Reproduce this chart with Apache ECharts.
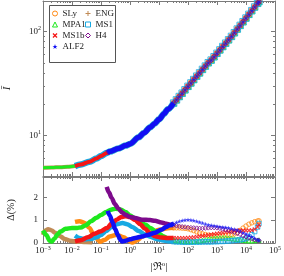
<!DOCTYPE html>
<html><head><meta charset="utf-8">
<script src="https://cdn.jsdelivr.net/npm/echarts@6/dist/echarts.min.js"></script>
<style>html,body{margin:0;padding:0;background:#fff}#c{width:284px;height:276px}</style>
</head><body><div id="c"></div>
<script>
// ---------------- data ----------------
const eosNames = ['SLy','ENG','MPA1','MS1','MS1b','H4','ALF2'];
const xMajorTicks = [1e-3,1e-2,1e-1,1,10,100,1e3,1e4,1e5];
const yTopMajorTicks = [10,100];
const yTopMinorTicks = [5,6,7,8,9,20,30,40,50,60,70,80,90];
const yBotTicks = [0,1,2];

// top panel: I-bar along the common curve (dense part, drawn as band)
const topR    = [0.001,0.002,0.004,0.007,0.0127,0.02,0.04,0.07,0.1,0.157,0.17,0.2,0.4,0.7,1,2,3,5,7,10,15,20,32];
const topIbar = [4.9,4.92,4.96,5.0,5.08,5.25,5.6,6.0,6.35,6.8,6.87,7.0,7.5,8.0,8.3,9.6,10.6,12.0,13.0,14.3,16.2,17.9,20.5];
// sparse part: marker positions and I-bar there
const markR    = [32,40,50,63,79,100,126,158,200,251,316,398,501,631,794,1000,1259,1585,1995,2512,3162,3981,5012,6310,7943,10000,12589,15849,19953,25119,28000];
const markIbar = [20.5,22.0,23.7,25.5,27.5,29.7,32.0,34.5,37.2,40.0,43.2,46.5,50.1,53.1,57.2,61.7,66.5,71.7,77.2,83.2,89.7,97.3,105.5,114.5,124.2,134.7,146.2,158.6,172,186.6,194];

// bottom panel: Delta(%) — dense part (R, Delta) and values at markR
const slyR = [0.0127,0.018,0.028,0.04,0.053,0.07,0.093,0.13,0.2,0.35,0.6,0.9,1.2,1.8,2.6,5,10,20,32];
const slyD = [0.92,0.95,0.87,0.65,0.42,0.2,0.05,0.13,0.28,0.36,0.25,0.1,0.02,0.12,0.27,0.45,0.58,0.64,0.66];
const slyM = [0.66,0.66,0.66,0.65,0.64,0.62,0.58,0.54,0.49,0.44,0.40,0.37,0.34,0.32,0.31,0.30,0.30,0.30,0.31,0.33,0.36,0.40,0.45,0.55,0.65,0.74,0.82,0.88,0.93,0.96,0.97];

// ENG: only its visible low-R part (further on it is hidden under the other curves)
const engR = [0.001,0.0012,0.0015,0.002,0.0026,0.0039,0.0055,0.0085,0.015,0.03,0.05];
const engD = [0.35,0.55,0.6,0.55,0.45,0.3,0.18,0.1,0.06,0.04,0.03];
const engM = [];

const mpa1R = [0.001,0.0013,0.0017,0.002,0.0025,0.0032,0.004,0.006,0.01,0.015,0.02,0.03,0.045,0.07,0.1,0.15,0.22,0.32,0.5,0.7,1,1.5,2.3,3.3,5,7.3,10,14,20,32];
const mpa1D = [0.55,0.35,0.1,0.06,0.2,0.38,0.5,0.62,0.66,0.66,0.68,0.78,0.95,1.1,1.22,1.35,1.45,1.5,1.45,1.35,1.2,1.07,0.93,0.81,0.66,0.52,0.41,0.3,0.2,0.12];
const mpa1M = [0.12,0.1,0.08,0.07,0.06,0.06,0.06,0.07,0.08,0.1,0.12,0.14,0.16,0.18,0.2,0.21,0.22,0.22,0.22,0.21,0.2,0.18,0.16,0.14,0.12,0.11,0.1,0.1,0.11,0.12,0.13];

const ms1R = [0.0127,0.018,0.028,0.045,0.07,0.1,0.15,0.22,0.35,0.55,0.8,1.2,2,3.3,5,8,14,20,32];
const ms1D = [0.32,0.22,0.16,0.18,0.25,0.35,0.52,0.68,0.82,0.87,0.82,0.7,0.52,0.37,0.27,0.18,0.11,0.08,0.06];
const ms1M = [0.06,0.05,0.05,0.04,0.04,0.04,0.04,0.04,0.04,0.04,0.05,0.05,0.05,0.05,0.06,0.06,0.07,0.07,0.08,0.09,0.1,0.11,0.12,0.14,0.16,0.2,0.26,0.36,0.5,0.7,0.85];

const ms1bR = [0.0127,0.02,0.035,0.06,0.093,0.16,0.25,0.35,0.5,0.7,1,1.5,2.2,3.3,5,7.3,12,20,32];
const ms1bD = [0.07,0.12,0.25,0.4,0.5,0.65,0.88,1.02,1.13,1.17,1.13,1.0,0.83,0.62,0.42,0.3,0.24,0.22,0.22];
const ms1bM = [0.22,0.22,0.22,0.22,0.22,0.23,0.24,0.25,0.27,0.29,0.31,0.33,0.35,0.37,0.39,0.41,0.43,0.45,0.47,0.49,0.51,0.53,0.54,0.55,0.55,0.55,0.55,0.56,0.6,0.7,0.8];

const h4R = [0.157,0.19,0.23,0.3,0.4,0.55,0.7,1,1.5,2.6,4.9,7.3,12,18,24,32];
const h4D = [2.45,2.2,1.98,1.7,1.5,1.32,1.23,1.14,1.09,1.02,1.0,0.97,0.9,0.84,0.8,0.77];
const h4M = [0.77,0.75,0.73,0.71,0.7,0.68,0.67,0.66,0.65,0.64,0.64,0.65,0.66,0.67,0.67,0.66,0.64,0.61,0.58,0.55,0.51,0.47,0.42,0.37,0.32,0.27,0.22,0.18,0.14,0.12,0.11];

const alf2R = [0.17,0.2,0.25,0.31,0.38,0.46,0.53,0.7,1,1.5,2.6,4,7.3,12,18,24,32];
const alf2D = [1.4,1.2,0.9,0.6,0.35,0.15,0.07,0.1,0.16,0.22,0.28,0.35,0.45,0.58,0.7,0.78,0.85];
const alf2M = [0.85,0.9,0.95,0.98,1.0,1.01,1.0,0.98,0.95,0.91,0.87,0.83,0.79,0.77,0.75,0.73,0.71,0.69,0.68,0.66,0.63,0.6,0.57,0.52,0.46,0.4,0.34,0.28,0.2,0.14,0.12];

// ---------------- style ----------------
const FONT = 'Liberation Serif, DejaVu Serif, serif';
const AX = '#7a7a7a';
const TXT = '#222';
const STAR = 'path://M5,0L6.18,3.38L9.76,3.45L6.9,5.62L7.94,9.05L5,7L2.06,9.05L3.1,5.62L0.24,3.45L3.82,3.38Z';
const CROSS = 'path://M0,1.8L1.8,0L5,3.2L8.2,0L10,1.8L6.8,5L10,8.2L8.2,10L5,6.8L1.8,10L0,8.2L3.2,5Z';
const PLUS = 'path://M4,0H6V4H10V6H6V10H4V6H0V4H4Z';

const eosList = [
  {name:'SLy',  R:slyR,  D:slyD,  M:slyM,  color:'#ff8a14', symbol:'circle',   fill:false, topW:5,   topS:6},
  {name:'ENG',  R:engR,  D:engD,  M:engM,  color:'#c08a55', symbol:PLUS,       fill:true,  topW:4,   topS:5},
  {name:'MPA1', R:mpa1R, D:mpa1D, M:mpa1M, color:'#1ee81e', symbol:'triangle', fill:false, topW:3,   topS:6},
  {name:'MS1',  R:ms1R,  D:ms1D,  M:ms1M,  color:'#17a9e3', symbol:'rect',     fill:false, topW:6.5, topS:6.5},
  {name:'MS1b', R:ms1bR, D:ms1bD, M:ms1bM, color:'#f51616', symbol:CROSS,      fill:true,  topW:4,   topS:5},
  {name:'H4',   R:h4R,   D:h4D,   M:h4M,   color:'#7d0a8c', symbol:'diamond',  fill:false, topW:5,   topS:5.5},
  {name:'ALF2', R:alf2R, D:alf2D, M:alf2M, color:'#1010f5', symbol:STAR,       fill:true,  topW:5,   topS:4.5}
];

const X_MIN = 1e-3, X_MAX = 1e5;
const xMinorTicks = [];
xMajorTicks.slice(0,-1).forEach(m => { for (let k=2;k<=9;k++) xMinorTicks.push(+(m*k).toPrecision(6)); });

function powLabel(v){ const e = Math.round(Math.log10(v)); return '10{s|' + (e<0 ? '\u2212'+(-e) : e) + '}'; }
const supRich = { s:{fontSize:6, verticalAlign:'top', lineHeight:12, fontFamily:FONT, color:TXT} };

function xAx(gridIndex, position, ticks, len, showLine, labels){
  return {
    type:'log', logBase:10, gridIndex, position, min:X_MIN, max:X_MAX,
    axisLine:{show:showLine, onZero:false, lineStyle:{color:AX, width:1}},
    axisTick:{show:true, inside:true, length:len, customValues:ticks, lineStyle:{color:AX, width:1}},
    axisLabel: labels ? {show:true, customValues:xMajorTicks, formatter:powLabel, fontFamily:FONT, fontSize:9, color:TXT, lineHeight:12, margin:2, rich:supRich} : {show:false},
    splitLine:{show:false}
  };
}
function yTop(position, ticks, len, showLine, labels){
  return {
    type:'log', logBase:10, gridIndex:0, position, min:4.08, max:196.5,
    axisLine:{show:showLine, onZero:false, lineStyle:{color:AX, width:1}},
    axisTick:{show:true, inside:true, length:len, customValues:ticks, lineStyle:{color:AX, width:1}},
    axisLabel: labels ? {show:true, customValues:yTopMajorTicks, formatter:powLabel, fontFamily:FONT, fontSize:9, color:TXT, lineHeight:12, margin:2, rich:supRich} : {show:false},
    splitLine:{show:false}
  };
}
function yBot(position, labels){
  return {
    type:'value', gridIndex:1, position, min:0, max:2.88,
    axisLine:{show:true, onZero:false, lineStyle:{color:AX, width:1}},
    axisTick:{show:true, inside:true, length:4, customValues:yBotTicks, lineStyle:{color:AX, width:1}},
    axisLabel: labels ? {show:true, customValues:yBotTicks, formatter:v=>String(Math.round(v)), fontFamily:FONT, fontSize:9, color:TXT, margin:5} : {show:false},
    splitLine:{show:false}
  };
}

const xAxes = [
  xAx(0,'bottom',xMajorTicks,4,true,false), xAx(0,'bottom',xMinorTicks,2,false,false),
  xAx(0,'top',xMajorTicks,4,true,false),    xAx(0,'top',xMinorTicks,2,false,false),
  xAx(1,'bottom',xMajorTicks,4,true,true),  xAx(1,'bottom',xMinorTicks,2,false,false),
  xAx(1,'top',xMajorTicks,4,true,false),    xAx(1,'top',xMinorTicks,2,false,false)
];
Object.assign(xAxes[4], {name:'|\u211C{s|o}|', nameLocation:'middle', nameGap:18,
  nameTextStyle:{fontFamily:FONT, fontSize:11, color:TXT, lineHeight:13, rich:{s:{fontSize:7, verticalAlign:'top', lineHeight:13, fontFamily:FONT, color:TXT}}}});

const yAxes = [
  yTop('left',yTopMajorTicks,4,true,true), yTop('left',yTopMinorTicks,2,false,false),
  yTop('right',yTopMajorTicks,4,true,false), yTop('right',yTopMinorTicks,2,false,false),
  yBot('left',true), yBot('right',false)
];
Object.assign(yAxes[0], {name:'\u012A', nameLocation:'middle', nameRotate:90, nameGap:30,
  nameTextStyle:{fontFamily:FONT, fontSize:11, fontStyle:'italic', color:TXT}});
Object.assign(yAxes[4], {name:'\u0394(%)', nameLocation:'middle', nameRotate:90, nameGap:27,
  nameTextStyle:{fontFamily:FONT, fontSize:10, color:TXT}});

function mkItemStyle(e){ return e.fill ? {color:e.color, borderWidth:0}
                                        : {color:'rgba(0,0,0,0)', borderColor:e.color, borderWidth:1}; }

const series = [];
eosList.forEach(e => {
  const start = e.R[0];
  series.push({type:'line', name:e.name, xAxisIndex:0, yAxisIndex:0, silent:true,
    data: topR.map((r,i)=>[r, topIbar[i]]).filter(p => p[0] >= start*0.999),
    smooth:0.3, smoothMonotone:'x', symbol:'none', showSymbol:false,
    lineStyle:{color:e.color, width:e.topW}});
  series.push({type:'scatter', name:e.name, xAxisIndex:0, yAxisIndex:0, silent:true,
    data: markR.map((r,i)=>[r, markIbar[i]]), symbol:e.symbol, symbolSize:e.topS, itemStyle:mkItemStyle(e)});
});
eosList.forEach(e => {
  series.push({type:'line', name:e.name, xAxisIndex:4, yAxisIndex:4, silent:true,
    data: e.R.map((r,i)=>[r, e.D[i]]),
    smooth:0.3, smoothMonotone:'x', symbol:'none', showSymbol:false,
    lineStyle:{color:e.color, width:4.5}});
  series.push({type:'scatter', name:e.name, xAxisIndex:4, yAxisIndex:4, silent:true,
    data: e.M.map((d,i)=>[markR[i], d]), symbol:e.symbol, symbolSize:4.5, itemStyle:mkItemStyle(e)});
});

function legendItem(n){
  const e = eosList.find(x => x.name === n);
  return {name:n, icon:e.symbol, itemStyle:mkItemStyle(e)};
}
const legendBase = {orient:'vertical', top:8, padding:0, itemGap:0, itemWidth:5, itemHeight:5,
  textStyle:{fontFamily:FONT, fontSize:9, lineHeight:11, color:TXT}, selectedMode:false, z:10};

const option = {
  animation:false,
  backgroundColor:'#fff',
  grid:[
    {left:43, right:9, top:1, height:175, containLabel:false, outerBoundsMode:'none'},
    {left:43, right:9, top:177, height:66, containLabel:false, outerBoundsMode:'none'}
  ],
  xAxis:xAxes, yAxis:yAxes,
  legend:[
    Object.assign({}, legendBase, {left:52, data:['SLy','MPA1','MS1b','ALF2'].map(legendItem)}),
    Object.assign({}, legendBase, {left:85, data:['ENG','MS1','H4'].map(legendItem)})
  ],
  graphic:[{type:'rect', z:8, silent:true, shape:{x:49.5, y:5.5, width:66, height:57},
    style:{fill:'#fff', stroke:'#555', lineWidth:1}}],
  series
};
const chart = echarts.init(document.getElementById('c'), null, {renderer:'canvas'});
chart.setOption(option);
</script></body></html>
